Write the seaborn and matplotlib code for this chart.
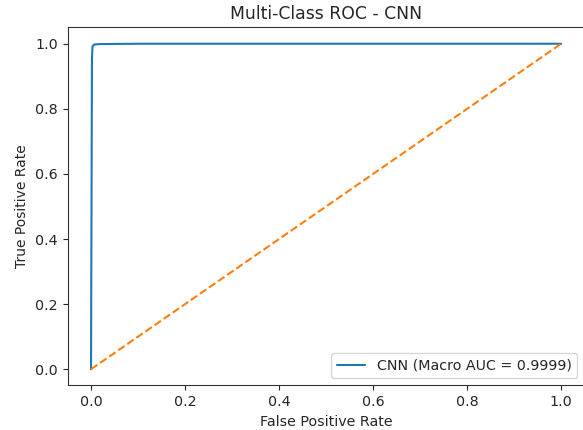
import numpy as np
import pandas as pd
import matplotlib
matplotlib.use("Agg")
import matplotlib.pyplot as plt
import seaborn as sns

# ROC points
fpr = [0.0, 0.002, 0.003, 0.005, 0.008, 0.02, 0.1, 0.5, 1.0]
tpr = [0.0, 0.95, 0.99, 0.996, 0.998, 0.999, 1.0, 1.0, 1.0]
diag = [0.0, 1.0]
label = "CNN (Macro AUC = 0.9999)"

def generate_plot():
    sns.set_style("ticks")
    plt.rcParams['font.family'] = ['DejaVu Sans']

    fig = plt.figure(figsize=(5.83, 4.30), dpi=100)
    # right spine sits just past the image edge in the reference
    ax = fig.add_axes([0.1158, 0.1035, 0.887, 0.8326])

    df = pd.DataFrame({"fpr": fpr, "tpr": tpr})
    sns.lineplot(x="fpr", y="tpr", data=df, ax=ax, color="#1f77b4",
                 label=label, sort=False, estimator=None, linewidth=1.5)
    sns.lineplot(x=diag, y=diag, ax=ax, color="#ff7f0e", linestyle="--",
                 linewidth=1.5, estimator=None)

    ax.set_xlim(-0.05, 1.05)
    ax.set_ylim(-0.05, 1.05)
    ax.set_xticks([0, 0.2, 0.4, 0.6, 0.8, 1.0])
    ax.set_yticks([0, 0.2, 0.4, 0.6, 0.8, 1.0])
    ax.tick_params(labelsize=10.3)
    ax.set_title("Multi-Class ROC - CNN", fontsize=12.4)
    ax.set_xlabel("False Positive Rate", fontsize=10.3)
    ax.set_ylabel("True Positive Rate", fontsize=10)
    ax.legend(loc="lower right", fontsize=10.3)
    for s in ax.spines.values():
        s.set_visible(True)
        s.set_color("#333333")
    ax.spines["right"].set_visible(False)

    fig.savefig("out.png", dpi=100)
    plt.close(fig)

if __name__ == "__main__":
    generate_plot()
